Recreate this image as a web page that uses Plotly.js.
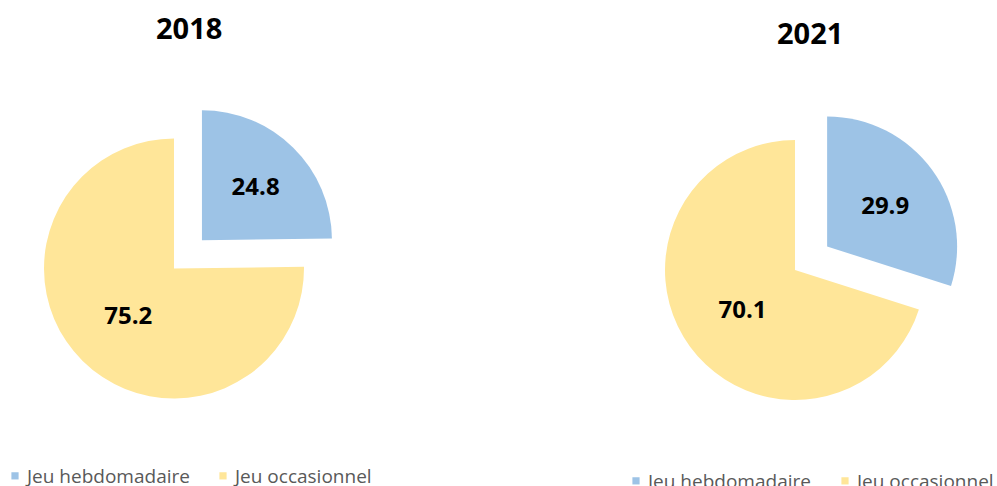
<!DOCTYPE html>
<html>
<head>
<meta charset="utf-8">
<script src="https://cdn.plot.ly/plotly-3.0.1.min.js"></script>
<style>
  html, body { margin: 0; padding: 0; background: #ffffff; }
  #chart { width: 997px; height: 486px; }
  /* smaller legend swatches, closer to the text, as in the original */
  #chart path.legendpie { transform: translate(28px, 0px) scale(0.6) !important; }
  /* the legends sit lower than Plotly lets them go (the original cuts the right one at the edge) */
  #chart g.legend { translate: 0px 9px; }
  #chart g.legend2 { translate: 48px 14px; }
</style>
</head>
<body>
<div id="chart"></div>
<script>
// ---- data ----
const labels = ['Jeu hebdomadaire', 'Jeu occasionnel'];
const values2018 = [24.8, 75.2];
const values2021 = [29.9, 70.1];
const years = ['2018', '2021'];
const sliceColors = ['#9DC3E6', '#FFE699'];

// ---- layout helpers (pixels -> paper) ----
const W = 997, H = 486;
const R = 130, PULL = 0.306;
function domainFor(cx, cy) {
  const half = R * (1 + PULL);
  return {
    x: [(cx - half) / W, (cx + half) / W],
    y: [(H - cy - half) / H, (H - cy + half) / H]
  };
}

const labelFont = { family: 'Open Sans', size: 24, color: '#000000', weight: 'bold' };

function pieTrace(vals, year, dom, legendId) {
  return {
    type: 'pie',
    name: year,
    labels: labels,
    values: vals,
    sort: false,
    direction: 'clockwise',
    rotation: 0,
    pull: [PULL, 0],
    marker: { colors: sliceColors, line: { width: 0 } },
    textinfo: 'value',
    textposition: 'inside',
    insidetextorientation: 'horizontal',
    textfont: labelFont,
    domain: dom,
    legend: legendId,
    legendgroup: 'g' + year,
    showlegend: true,
    hoverinfo: 'label+value'
  };
}

const data = [
  pieTrace(values2018, years[0], domainFor(174, 268.5), 'legend'),
  pieTrace(values2021, years[1], domainFor(795, 270), 'legend2')
];

const legendFont = { family: 'Open Sans', size: 19, color: '#595959' };

const layout = {
  width: W,
  height: H,
  paper_bgcolor: '#ffffff',
  plot_bgcolor: '#ffffff',
  margin: { l: 0, r: 0, t: 0, b: 0, autoexpand: false },
  showlegend: true,
  legend: {
    orientation: 'h', x: -13 / W, xanchor: 'left', y: 0, yanchor: 'bottom',
    entrywidth: 163,
    font: legendFont, bgcolor: 'rgba(0,0,0,0)', traceorder: 'normal'
  },
  legend2: {
    orientation: 'h', x: 560 / W, xanchor: 'left', y: 0, yanchor: 'bottom',
    entrywidth: 164,
    font: legendFont, bgcolor: 'rgba(0,0,0,0)', traceorder: 'normal'
  },
  annotations: [
    { text: years[0], xref: 'paper', yref: 'paper', x: 188.5 / W, y: (H - 28) / H,
      xanchor: 'center', yanchor: 'middle', showarrow: false,
      font: { family: 'Open Sans', size: 29, color: '#000000', weight: 'bold' } },
    { text: years[1], xref: 'paper', yref: 'paper', x: 809.5 / W, y: (H - 33) / H,
      xanchor: 'center', yanchor: 'middle', showarrow: false,
      font: { family: 'Open Sans', size: 29, color: '#000000', weight: 'bold' } }
  ]
};

Plotly.newPlot('chart', data, layout, { displayModeBar: false, staticPlot: true });
</script>
</body>
</html>
